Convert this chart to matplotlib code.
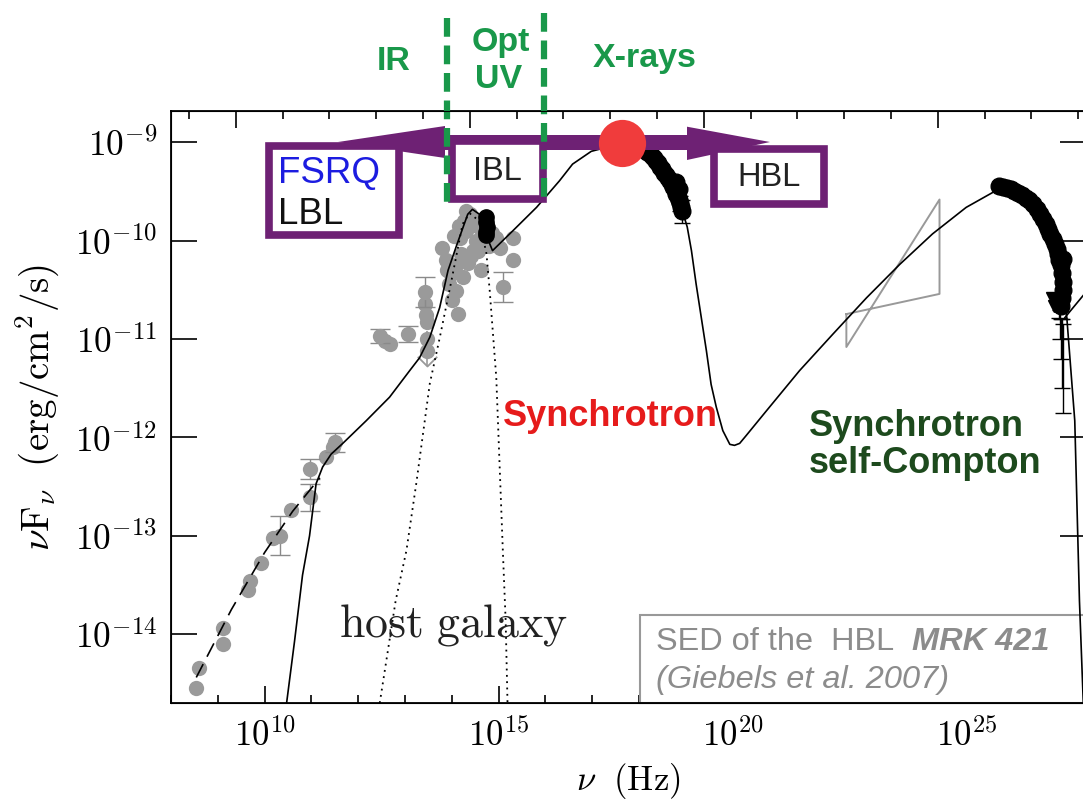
import numpy as np
import matplotlib
matplotlib.use('Agg')
import matplotlib.pyplot as plt
from matplotlib.patches import Rectangle, Polygon
from matplotlib.lines import Line2D
from matplotlib.ticker import FixedLocator, FuncFormatter, NullFormatter, NullLocator

plt.rcParams['mathtext.fontset'] = 'cm'
plt.rcParams['font.family'] = ['Liberation Sans', 'DejaVu Sans']

# log10(nu / Hz) and log10(nuFnu / erg cm^-2 s^-1)
model_lognu = [10.47, 10.64, 10.81, 10.96, 11.10, 11.24, 11.42, 11.67, 12.17, 12.67, 13.10, 13.31,
               13.53, 13.74, 13.92, 14.10, 14.34, 14.44, 14.59, 14.74, 14.87, 15.30, 15.81, 16.30,
               16.58, 16.98, 17.63, 18.16, 18.65, 18.93, 19.03, 19.12, 19.22, 19.33, 19.44, 19.54,
               19.65, 19.79, 19.94, 20.04, 20.15, 20.29, 20.72, 21.43, 22.14, 22.86, 23.57, 24.27,
               24.99, 25.70, 26.41, 26.92, 27.14, 27.31, 27.41, 27.50]
model_logflux = [-14.70, -14.07, -13.40, -13.00, -12.47, -12.30, -12.17, -12.06, -11.83, -11.59, -11.32, -11.19,
                 -10.98, -10.68, -10.30, -10.05, -9.73, -9.68, -9.73, -9.95, -10.10, -9.90, -9.66, -9.39,
                 -9.22, -9.09, -9.01, -9.09, -9.34, -9.70, -9.86, -10.10, -10.44, -10.78, -11.12, -11.46,
                 -11.69, -11.93, -12.07, -12.08, -12.06, -11.98, -11.73, -11.32, -10.95, -10.58, -10.24, -9.93,
                 -9.66, -9.47, -9.59, -10.10, -10.78, -11.83, -13.66, -14.80]

tail_lognu = [27.10, 27.50]
tail_logflux = [-10.78, -10.55]

host_lognu = [12.46, 12.80, 13.03, 13.24, 13.53, 13.74, 13.99, 14.23, 14.38, 14.59, 14.74, 14.81,
              14.95, 15.09, 15.15, 15.19]
host_logflux = [-14.70, -13.66, -13.15, -12.47, -11.45, -10.99, -10.41, -9.83, -9.72, -9.80, -10.13, -10.51,
                -11.39, -13.15, -13.86, -14.70]

radio_fit_lognu = [8.54, 9.29, 10.00, 10.60, 11.18]
radio_fit_logflux = [-14.44, -13.75, -13.17, -12.75, -12.41]

# archival data (grey)
arch_lognu = [8.54, 8.60, 9.12, 9.12, 9.65, 9.68, 9.93, 10.17, 10.57, 11.32, 11.46,
              12.67, 13.46, 13.46, 13.46, 13.42, 14.13, 13.78, 13.88, 13.99, 13.95, 14.17,
              14.20, 14.27, 14.38, 14.34, 14.52, 14.24, 14.10, 14.59, 14.95, 15.02, 15.31,
              15.31, 14.05, 14.30, 14.45, 14.00, 14.62, 14.15, 14.25, 14.35, 14.55, 14.65,
              14.10, 13.90, 14.40, 14.60, 14.80, 14.85, 14.30, 12.58, 13.44]
arch_logflux = [-14.55, -14.34, -14.10, -13.94, -13.55, -13.46, -13.28, -13.02, -12.74, -12.20, -12.10,
                -11.05, -11.12, -11.00, -10.83, -10.64, -10.74, -10.07, -10.20, -10.34, -10.44, -9.97,
                -10.13, -9.80, -9.73, -10.23, -10.00, -10.37, -10.51, -9.86, -9.97, -10.07, -9.97,
                -10.20, -9.95, -9.90, -10.10, -10.60, -10.30, -9.85, -9.90, -9.85, -10.10, -10.05,
                -10.25, -10.30, -10.15, -9.80, -10.05, -9.92, -9.70, -11.02, -10.75]

arch_err_lognu = [10.32, 10.96, 10.96, 11.50, 12.46, 13.06, 13.42, 15.09]
arch_err_logflux = [-13.00, -12.61, -12.32, -12.05, -10.97, -10.95, -10.52, -10.47]
arch_err_dex = [0.20, 0.14, 0.10, 0.10, 0.07, 0.08, 0.15, 0.15]

ulim_lognu = [13.48]
ulim_logflux = [-11.27]

# simultaneous data (black)
opt_lognu = [14.74, 14.74, 14.75, 14.74, 14.73]
opt_logflux = [-9.76, -9.81, -9.86, -9.91, -9.94]

xray_lognu = [18.12, 18.18, 18.22, 18.27, 18.31, 18.36, 18.40, 18.45, 18.49, 18.54, 18.58, 18.62,
              18.66, 18.70, 18.73, 18.77, 18.80, 18.83, 18.86, 18.88, 18.90, 18.91, 18.85, 18.80]
xray_logflux = [-9.07, -9.10, -9.11, -9.14, -9.16, -9.19, -9.21, -9.25, -9.27, -9.31, -9.33, -9.36,
                -9.39, -9.42, -9.45, -9.48, -9.52, -9.55, -9.59, -9.62, -9.66, -9.70, -9.47, -9.40]
xray_err_lognu = [18.88, 18.92]
xray_err_logflux = [-9.62, -9.70]
xray_err_dex = [0.08, 0.12]

gamma_lognu = [25.70, 25.78, 25.86, 25.94, 26.02, 26.10, 26.18, 26.26, 26.34, 26.42, 26.50, 26.57,
               26.63, 26.69, 26.74, 26.79, 26.84, 26.88, 26.92, 26.96, 26.99, 27.02, 27.04, 27.05,
               27.05, 27.04, 27.02, 26.98, 27.06]
gamma_logflux = [-9.44, -9.45, -9.46, -9.47, -9.49, -9.51, -9.53, -9.56, -9.59, -9.63, -9.68, -9.73,
                 -9.78, -9.83, -9.88, -9.93, -9.98, -10.03, -10.08, -10.13, -10.18, -10.25, -10.33, -10.42,
                 -10.50, -10.58, -10.66, -10.20, -10.18]
tev_lognu = [26.98, 27.00, 27.02, 27.04, 27.06]
tev_logflux = [-10.70, -10.85, -11.00, -11.15, -11.30]
tev_err_dex = [0.08, 0.15, 0.20, 0.35, 0.45]
gamma_ulim_lognu = [26.82, 26.86]
gamma_ulim_logflux = [-10.58, -10.66]

# Fermi bow-tie corners
bowtie_lognu = [22.43, 24.42, 24.42, 22.43, 22.43]
bowtie_logflux = [-10.745, -10.54, -9.58, -11.08, -10.745]

peak_lognu = 17.63
peak_logflux = -9.01

W, H = 1083, 802
fig = plt.figure(figsize=(W / 100, H / 100), dpi=100)
ax = fig.add_axes([171 / W, 1 - 703 / H, (1086 - 171) / W, (703 - 111) / H])


def p(a):
    return 10.0 ** np.asarray(a)


def px(x, y):
    return (x / W, 1 - y / H)


def logerr(logy, dex):
    y = p(logy)
    e = np.asarray(dex)
    return y, [y * (1 - 10 ** -e), y * (10 ** e - 1)]


grey = '#9a9a9a'
ax.plot(p(model_lognu), p(model_logflux), color='k', lw=1.2, zorder=3)
ax.plot(p(tail_lognu), p(tail_logflux), color='k', lw=1.2, zorder=3)
ax.plot(p(host_lognu), p(host_logflux), color='k', lw=1.3, ls=(0, (1, 2.5)), zorder=3)
ax.plot(p(radio_fit_lognu), p(radio_fit_logflux), color='k', lw=1.2, ls=(0, (9, 5)), zorder=3)

ax.plot(p(arch_lognu), p(arch_logflux), 'o', color=grey, ms=11, mec='none', zorder=2)
y, yerr = logerr(arch_err_logflux, arch_err_dex)
ax.errorbar(p(arch_err_lognu), y, yerr=yerr, fmt='o', color=grey, ms=11, mec='none',
            ecolor='#8a8a8a', elinewidth=1, capsize=7, zorder=2)
yu = p(ulim_logflux)
ax.vlines(p(ulim_lognu), yu, yu * 10 ** 0.35, color='#999999', lw=1.2, zorder=2)
ax.plot(p(ulim_lognu), yu, marker=[(-1, 1), (0, 0), (1, 1)], ms=14, mfc='none', mec='#999999',
        mew=1.3, ls='none', zorder=2)

ax.plot(p(bowtie_lognu), p(bowtie_logflux), color='#999999', lw=1.4, zorder=2)

ax.plot(p(opt_lognu), p(opt_logflux), 'o', color='k', ms=11, zorder=4)
ax.plot(p(xray_lognu), p(xray_logflux), 'o', color='k', ms=12, zorder=4)
y, yerr = logerr(xray_err_logflux, xray_err_dex)
ax.errorbar(p(xray_err_lognu), y, yerr=yerr, fmt='none', ecolor='k', elinewidth=1, capsize=6, zorder=4)
ax.plot(p(gamma_lognu), p(gamma_logflux), 'o', color='k', ms=12, zorder=4)
y, yerr = logerr(tev_logflux, tev_err_dex)
ax.errorbar(p(tev_lognu), y, yerr=yerr, fmt='none', ecolor='k', elinewidth=1, capsize=6, zorder=4)
ax.plot(p(gamma_ulim_lognu), p(gamma_ulim_logflux), 'v', color='k', ms=8, zorder=4)

ax.set_xscale('log')
ax.set_yscale('log')
ax.set_xlim(1e8, 10 ** 27.55)
ax.set_ylim(10 ** -14.7, 10 ** -8.68)

decade = FuncFormatter(lambda v, pos: r'$10^{%d}$' % round(np.log10(v)))
ax.xaxis.set_major_locator(FixedLocator([1e10, 1e15, 1e20, 1e25]))
ax.xaxis.set_minor_locator(FixedLocator(10.0 ** np.arange(8, 28)))
ax.xaxis.set_major_formatter(decade)
ax.xaxis.set_minor_formatter(NullFormatter())
ax.yaxis.set_major_locator(FixedLocator(10.0 ** np.arange(-14, -8)))
ax.yaxis.set_minor_locator(NullLocator())
ax.yaxis.set_major_formatter(decade)
ax.tick_params(axis='x', which='major', direction='in', length=12, width=1.2, labelsize=25, pad=11, top=False)
ax.tick_params(axis='x', which='minor', direction='in', length=6, width=1.2, top=False)
ax.tick_params(axis='y', which='major', direction='in', length=19, width=1.2, labelsize=25.5, pad=10, right=True)
for s in ax.spines.values():
    s.set_linewidth(1.3)

# top axis: photon energy in eV
top = ax.twiny()
h_ev = 4.1357e-15
top.set_xscale('log')
top.set_xlim(1e8 * h_ev, 10 ** 27.55 * h_ev)
top.xaxis.set_major_locator(FixedLocator(10.0 ** np.array([-5, 0, 5, 10])))
top.xaxis.set_minor_locator(FixedLocator(10.0 ** np.arange(-7, 14)))
top.xaxis.set_major_formatter(NullFormatter())
top.xaxis.set_minor_formatter(NullFormatter())
top.tick_params(axis='x', which='major', direction='in', length=12, width=1.2)
top.tick_params(axis='x', which='minor', direction='in', length=6, width=1.2)

ax.set_xlabel(r'$\nu\ \ {\rm (Hz)}$', fontsize=25, labelpad=6)
ax.set_ylabel(r'$\nu{\rm F}_\nu\ \ ({\rm erg/cm^2/s})$', fontsize=28, labelpad=10)

tf = fig.transFigure
purple = '#6e2174'
green = '#19984a'

# overlay: blazar sequence arrow and boxes
arrow = [(338, 142), (445, 126), (445, 135), (687, 135), (687, 126.7), (770, 142),
         (687, 160), (687, 150), (445, 150), (445, 158)]
ax.add_patch(Polygon([px(*v) for v in arrow], closed=True, facecolor=purple, edgecolor='none',
                     transform=tf, clip_on=False, zorder=6))
for (x0, y0, x1, y1) in [(269, 145.7, 399, 235), (452, 141, 543, 199), (714, 149, 824, 204)]:
    ax.add_patch(Rectangle(px(x0, y1), (x1 - x0) / W, (y1 - y0) / H, facecolor='white', edgecolor=purple,
                           lw=5.5, transform=tf, clip_on=False, zorder=7))
ax.plot(p(peak_lognu), p(peak_logflux), 'o', color='#f03c3c', ms=34, mec='none', zorder=9, clip_on=False)

ax.text(*px(278, 173), 'FSRQ', color='#1c1ce0', fontsize=26.5, ha='left', va='center', transform=tf, zorder=8)
ax.text(*px(278, 215), 'LBL', color='#111111', fontsize=26.5, ha='left', va='center', transform=tf, zorder=8)
ax.text(*px(497, 172), 'IBL', color='#222222', fontsize=23.5, ha='center', va='center', transform=tf, zorder=8)
ax.text(*px(769, 177), 'HBL', color='#222222', fontsize=23.5, ha='center', va='center', transform=tf, zorder=8)

# band separators
for (x, y0, y1) in [(447, 18, 209), (544, 13, 205)]:
    ax.add_line(Line2D([x / W, x / W], [1 - y0 / H, 1 - y1 / H], color=green, lw=4.5,
                       dashes=(3, 1.4), transform=tf, clip_on=False, zorder=10))
for (x, y, s) in [(394, 62, 'IR'), (501, 42, 'Opt'), (499, 80, 'UV'), (645, 58, 'X-rays')]:
    ax.text(*px(x, y), s, color=green, fontsize=24.5, fontweight='bold', ha='center', va='center',
            transform=tf, zorder=10)

ax.text(*px(610, 416), 'Synchrotron', color='#e61b1b', fontsize=26, fontweight='bold',
        ha='center', va='center', transform=tf, zorder=8)
ax.text(*px(809, 445), 'Synchrotron\nself-Compton', color='#1d4a1d', fontsize=26, fontweight='bold',
        ha='left', va='center', linespacing=1.05, transform=tf, zorder=8)
ax.text(*px(453, 625), r'$\rm host\ galaxy$', color='#222222', fontsize=33,
        ha='center', va='center', transform=tf, zorder=8)

# reference box
ax.add_patch(Rectangle(px(640, 703), 500 / W, 88 / H, facecolor='white', edgecolor='#999999', lw=1.5,
                       transform=tf, clip_on=False, zorder=2.3))
ax.text(*px(656, 642), 'SED of the  HBL', color='#8c8c8c', fontsize=23.4, ha='left', va='center',
        transform=tf, zorder=8)
ax.text(*px(912, 642), 'MRK 421', color='#8c8c8c', fontsize=23.4, fontweight='bold', style='italic',
        ha='left', va='center', transform=tf, zorder=8)
ax.text(*px(656, 680), '(Giebels et al. 2007)', color='#8c8c8c', fontsize=23.4, style='italic',
        ha='left', va='center', transform=tf, zorder=8)

fig.savefig('out.png', dpi=100)
